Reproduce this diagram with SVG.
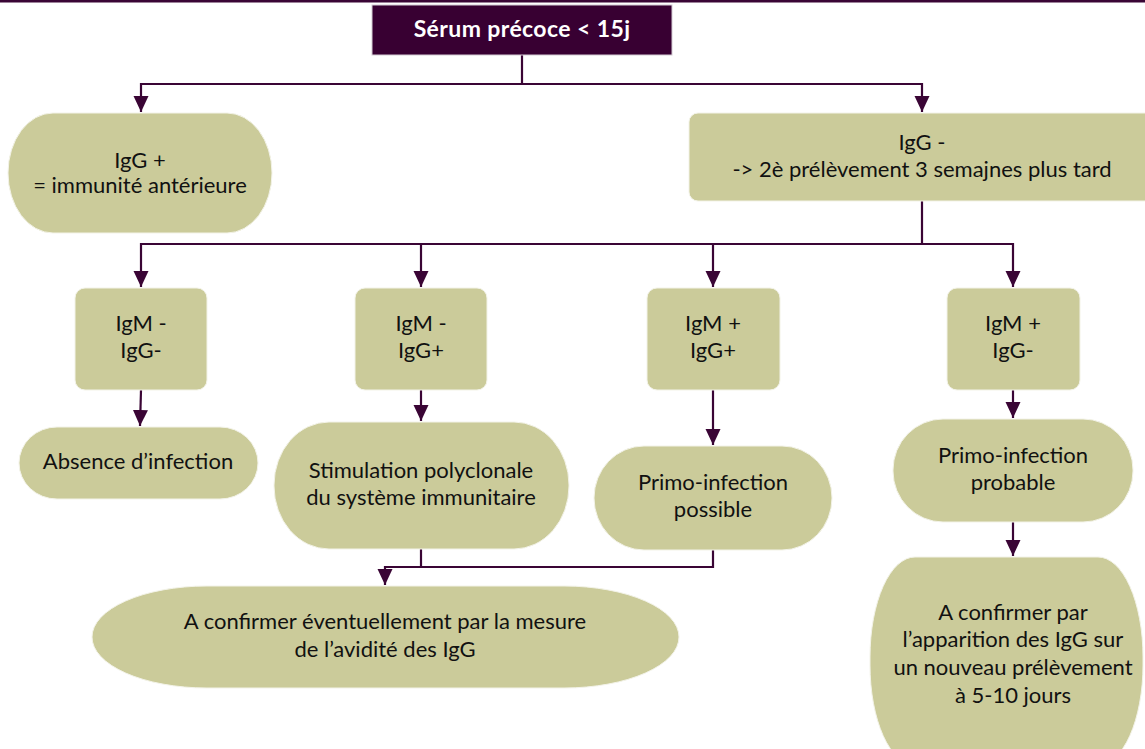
<svg xmlns="http://www.w3.org/2000/svg" width="1145" height="749" viewBox="0 0 1145 749">
<defs>
<style>
.n{fill:#CBCB9A;stroke:#F3F3E8;stroke-width:1}
.t{font-family:Lato,"Liberation Sans",sans-serif;font-size:22px;fill:#111;text-anchor:middle}
.c{fill:none;stroke:#3A0535;stroke-width:2.2}
.tt{font-family:Lato,"Liberation Sans",sans-serif;font-size:23px;font-weight:bold;fill:#fff;text-anchor:middle;letter-spacing:0.4px}
</style>
<marker id="ar" markerUnits="userSpaceOnUse" markerWidth="16" markerHeight="16" refX="16" refY="7.5" orient="auto" viewBox="0 0 16 15">
<path d="M0,0 L16,7.5 L0,15 z" fill="#3A0535"/>
</marker>
</defs>
<rect x="0" y="0" width="1145" height="2.5" fill="#3A0535"/>
<g id="connectors">
<path class="c" d="M522,55 V84 H141 V112" marker-end="url(#ar)"/>
<path class="c" d="M522,84 H922 V112" marker-end="url(#ar)"/>
<path class="c" d="M922,201 V244 H141 V287" marker-end="url(#ar)"/>
<path class="c" d="M421,244 V287" marker-end="url(#ar)"/>
<path class="c" d="M713,244 V287" marker-end="url(#ar)"/>
<path class="c" d="M922,244 H1013 V287" marker-end="url(#ar)"/>
<path class="c" d="M141,390 L140,426" marker-end="url(#ar)"/>
<path class="c" d="M421,390 V421" marker-end="url(#ar)"/>
<path class="c" d="M713,390 V445" marker-end="url(#ar)"/>
<path class="c" d="M1013,390 V418" marker-end="url(#ar)"/>
<path class="c" d="M1013,522 V556" marker-end="url(#ar)"/>
<path class="c" d="M421,549 V567"/>
<path class="c" d="M713,549 V567 H385 V585" marker-end="url(#ar)"/>
</g>
<g id="n-title">
<rect x="372" y="5" width="300" height="50" fill="#380032" stroke="#D4CCD4" stroke-width="1"/>
<text class="tt" x="522" y="37">Sérum précoce &lt; 15j</text>
</g>
<g id="n-igg-pos">
<rect class="n" x="8" y="113" width="264" height="120" rx="45" ry="60"/>
<text class="t" x="140" y="168">IgG +</text>
<text class="t" x="140" y="193">= immunité antérieure</text>
</g>
<g id="n-igg-neg">
<rect class="n" x="689" y="113" width="466" height="88" rx="9" ry="9"/>
<text class="t" x="922" y="150">IgG -</text>
<text class="t" x="922" y="177">-&gt; 2è prélèvement 3 semajnes plus tard</text>
</g>
<g id="n-mm-gm">
<rect class="n" x="75" y="288" width="132" height="102" rx="10" ry="10"/>
<text class="t" x="141" y="331">IgM -</text>
<text class="t" x="141" y="358">IgG-</text>
</g>
<g id="n-mm-gp">
<rect class="n" x="355" y="288" width="132" height="102" rx="10" ry="10"/>
<text class="t" x="421" y="331">IgM -</text>
<text class="t" x="421" y="358">IgG+</text>
</g>
<g id="n-mp-gp">
<rect class="n" x="647" y="288" width="133" height="102" rx="10" ry="10"/>
<text class="t" x="713" y="331">IgM +</text>
<text class="t" x="713" y="358">IgG+</text>
</g>
<g id="n-mp-gm">
<rect class="n" x="947" y="288" width="133" height="102" rx="10" ry="10"/>
<text class="t" x="1013" y="331">IgM +</text>
<text class="t" x="1013" y="358">IgG-</text>
</g>
<g id="n-absence">
<rect class="n" x="19" y="427" width="239" height="72" rx="38" ry="36"/>
<text class="t" x="138" y="469">Absence d’infection</text>
</g>
<g id="n-stimulation">
<rect class="n" x="274" y="422" width="295" height="127" rx="55" ry="63"/>
<text class="t" x="421" y="478">Stimulation polyclonale</text>
<text class="t" x="421" y="505">du système immunitaire</text>
</g>
<g id="n-possible">
<rect class="n" x="594" y="446" width="238" height="104" rx="50" ry="52"/>
<text class="t" x="713" y="490">Primo-infection</text>
<text class="t" x="713" y="517">possible</text>
</g>
<g id="n-probable">
<rect class="n" x="893" y="419" width="240" height="103" rx="50" ry="51"/>
<text class="t" x="1013" y="463">Primo-infection</text>
<text class="t" x="1013" y="490">probable</text>
</g>
<g id="n-avidite">
<rect class="n" x="92" y="586" width="587" height="102" rx="115" ry="51"/>
<text class="t" x="385" y="629">A confirmer éventuellement par la mesure</text>
<text class="t" x="385" y="657">de l’avidité des IgG</text>
</g>
<g id="n-confirmer">
<rect class="n" x="870" y="557" width="273" height="208" rx="45" ry="100"/>
<text class="t" x="1013" y="620">A confirmer par</text>
<text class="t" x="1013" y="647">l’apparition des IgG sur</text>
<text class="t" x="1013" y="675">un nouveau prélèvement</text>
<text class="t" x="1013" y="703">à 5-10 jours</text>
</g>
</svg>
